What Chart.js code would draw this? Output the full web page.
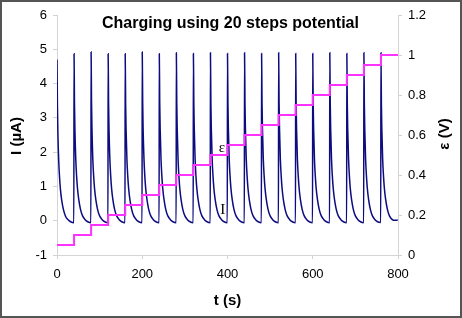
<!DOCTYPE html>
<html>
<head>
<meta charset="utf-8">
<script src="https://cdn.jsdelivr.net/npm/chart.js@4"></script>
<style>
  body { margin: 0; background: #fff; }
  canvas { display: block; }
</style>
</head>
<body>
<canvas id="chart" width="462" height="318"></canvas>
<script>
// start time of each potential step (s)
const stepStarts = [0, 40, 80, 120, 160, 200, 240, 280, 320, 360, 400, 440, 480, 520, 560, 600, 640, 680, 720, 760];
// potential at each step (V)
const potential = [0.05, 0.10, 0.15, 0.20, 0.25, 0.30, 0.35, 0.40, 0.45, 0.50, 0.55, 0.60, 0.65, 0.70, 0.75, 0.80, 0.85, 0.90, 0.95, 1.00];
const endTime = 800;
// sample times inside one step (s after the step starts)
const cycleOffsets = [0, 1, 2, 4, 6, 8, 11, 15, 20, 26, 32, 39.5];
// current (uA)
const currentRows = [
    [4.70, 3.35, 2.60, 1.75, 1.27, 0.92, 0.60, 0.33, 0.13, 0.03, -0.03, -0.06],
    [4.87, 3.45, 2.68, 1.80, 1.30, 0.95, 0.62, 0.34, 0.14, 0.03, -0.03, -0.06],
    [4.92, 3.47, 2.70, 1.80, 1.30, 0.95, 0.62, 0.34, 0.14, 0.03, -0.03, -0.06],
    [4.87, 3.45, 2.68, 1.80, 1.30, 0.95, 0.62, 0.34, 0.14, 0.03, -0.03, -0.06],
    [4.87, 3.45, 2.70, 1.80, 1.30, 0.95, 0.62, 0.34, 0.14, 0.03, -0.03, -0.06],
    [4.92, 3.47, 2.70, 1.82, 1.30, 0.95, 0.62, 0.34, 0.14, 0.03, -0.03, -0.06],
    [4.87, 3.45, 2.70, 1.80, 1.30, 0.95, 0.62, 0.34, 0.14, 0.03, -0.03, -0.06],
    [4.90, 3.45, 2.70, 1.80, 1.30, 0.95, 0.62, 0.34, 0.14, 0.03, -0.03, -0.06],
    [4.88, 3.45, 2.70, 1.80, 1.30, 0.95, 0.62, 0.34, 0.14, 0.03, -0.03, -0.06],
    [4.90, 3.45, 2.70, 1.80, 1.30, 0.95, 0.62, 0.34, 0.14, 0.03, -0.03, -0.06],
    [4.88, 3.45, 2.70, 1.80, 1.30, 0.95, 0.62, 0.34, 0.14, 0.03, -0.03, -0.06],
    [4.90, 3.45, 2.70, 1.80, 1.30, 0.95, 0.62, 0.34, 0.14, 0.03, -0.03, -0.06],
    [4.88, 3.45, 2.70, 1.80, 1.30, 0.95, 0.62, 0.34, 0.14, 0.03, -0.03, -0.06],
    [4.90, 3.45, 2.70, 1.80, 1.30, 0.95, 0.62, 0.34, 0.14, 0.03, -0.03, -0.06],
    [4.88, 3.45, 2.70, 1.80, 1.30, 0.95, 0.62, 0.34, 0.14, 0.03, -0.03, -0.06],
    [4.88, 3.45, 2.70, 1.80, 1.30, 0.95, 0.62, 0.34, 0.14, 0.03, -0.03, -0.06],
    [4.90, 3.45, 2.70, 1.80, 1.30, 0.95, 0.62, 0.34, 0.14, 0.03, -0.03, -0.06],
    [4.88, 3.45, 2.70, 1.80, 1.30, 0.95, 0.62, 0.34, 0.14, 0.03, -0.03, -0.06],
    [4.90, 3.45, 2.70, 1.80, 1.30, 0.95, 0.62, 0.34, 0.14, 0.03, -0.03, -0.05],
    [4.90, 3.45, 2.70, 1.80, 1.30, 0.95, 0.62, 0.34, 0.14, 0.04, 0.01, 0.02]
];
const xTicks = [0, 200, 400, 600, 800];

const currentPoints = [];
stepStarts.forEach((t0, i) => {
    cycleOffsets.forEach((dt, j) => currentPoints.push({x: t0 + dt, y: currentRows[i][j]}));
});
const potentialPoints = stepStarts.map((t, i) => ({x: t, y: potential[i]}));
potentialPoints.push({x: endTime, y: potential[potential.length - 1]});

const FONT = "'Liberation Sans', Arial, sans-serif";
const axisGray = '#d4d4d4';

const decor = {
    id: 'decor',
    afterDraw(chart) {
        const ctx = chart.ctx;
        const a = chart.chartArea;
        const xs = chart.scales.x, yI = chart.scales.y;
        ctx.save();
        ctx.fillStyle = '#000';
        ctx.textAlign = 'center';
        ctx.textBaseline = 'middle';
        ctx.font = 'bold 16px ' + FONT;
        ctx.fillText('Charging using 20 steps potential', (a.left + a.right) / 2 + 3, 24);
        ctx.font = 'bold 15px ' + FONT;
        ctx.fillText('t (s)', (a.left + a.right) / 2, 301);
        ctx.save();
        ctx.translate(17, (a.top + a.bottom) / 2 + 1);
        ctx.rotate(-Math.PI / 2);
        ctx.fillText('I (\u00b5A)', 0, 0);
        ctx.restore();
        ctx.save();
        ctx.translate(445, (a.top + a.bottom) / 2 - 1);
        ctx.rotate(-Math.PI / 2);
        ctx.fillText('\u03b5 (V)', 0, 0);
        ctx.restore();
        // curve labels
        ctx.font = '15px "Liberation Serif", "DejaVu Serif", serif';
        ctx.fillText('\u03b5', xs.getPixelForValue(387), yI.getPixelForValue(2.13));
        ctx.fillText('I', xs.getPixelForValue(389), yI.getPixelForValue(0.32));
        // outer frame
        ctx.strokeStyle = '#555';
        ctx.lineWidth = 2;
        ctx.strokeRect(1, 1, chart.width - 2, chart.height - 2);
        ctx.restore();
    }
};

const tickFont = {family: FONT, size: 13};

new Chart(document.getElementById('chart'), {
    type: 'scatter',
    data: {
        datasets: [
            {
                label: '\u03b5',
                data: potentialPoints,
                yAxisID: 'y2',
                showLine: true,
                stepped: 'before',
                borderColor: '#ff33ff',
                borderWidth: 2,
                pointRadius: 0,
                order: 0
            },
            {
                label: 'I',
                data: currentPoints,
                yAxisID: 'y',
                showLine: true,
                cubicInterpolationMode: 'monotone',
                borderColor: '#0c0c80',
                borderWidth: 1.5,
                pointRadius: 0,
                order: 1
            }
        ]
    },
    options: {
        responsive: false,
        animation: false,
        layout: {padding: {top: 15, left: 0, right: 0, bottom: 0}},
        plugins: {
            legend: {display: false},
            tooltip: {enabled: false}
        },
        scales: {
            x: {
                type: 'linear',
                min: 0,
                max: 800,
                afterBuildTicks: s => { s.ticks = xTicks.map(v => ({value: v})); },
                afterFit: s => { s.height = 63; },
                grid: {drawOnChartArea: false, color: axisGray, tickLength: 4},
                border: {color: axisGray},
                ticks: {color: '#000', font: tickFont, padding: 8, maxRotation: 0}
            },
            y: {
                position: 'left',
                min: -1,
                max: 6,
                ticks: {stepSize: 1, color: '#000', font: tickFont, padding: 6},
                afterFit: s => { s.width = 57; },
                grid: {drawOnChartArea: false, color: axisGray, tickLength: 4},
                border: {color: axisGray}
            },
            y2: {
                position: 'right',
                min: 0,
                max: 1.2,
                ticks: {
                    stepSize: 0.2,
                    color: '#000',
                    font: tickFont,
                    padding: 6,
                    callback: v => String(Math.round(v * 10) / 10)
                },
                afterFit: s => { s.width = 64; },
                grid: {drawOnChartArea: false, color: axisGray, tickLength: 4},
                border: {color: axisGray}
            }
        }
    },
    plugins: [decor]
});
</script>
</body>
</html>
